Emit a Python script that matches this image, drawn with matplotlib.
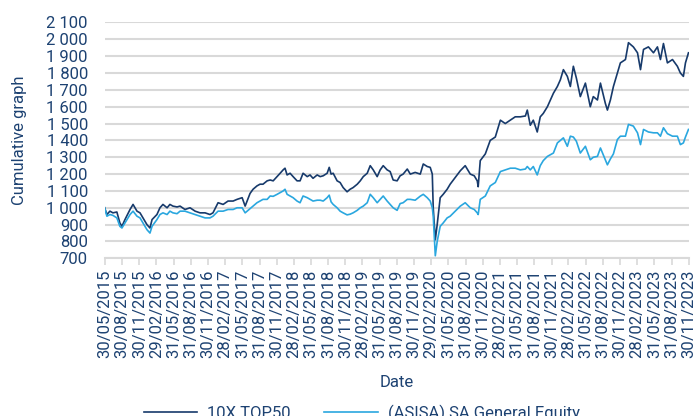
import pandas as pd
import matplotlib
matplotlib.use('Agg')
import matplotlib.pyplot as plt
import matplotlib.ticker as mticker

plt.rcParams['font.family'] = ['Roboto', 'DejaVu Sans']

# Valores
fechas = [
    '2015-05-30', '2015-06-11', '2015-06-27', '2015-07-13', '2015-08-03', '2015-08-19', '2015-08-30',
    '2015-09-15', '2015-10-12', '2015-10-28', '2015-11-18', '2015-12-04', '2015-12-20', '2016-01-10',
    '2016-01-26', '2016-02-06', '2016-03-03', '2016-03-19', '2016-04-04', '2016-04-26', '2016-05-11',
    '2016-05-27', '2016-06-18', '2016-07-04', '2016-07-30', '2016-08-26', '2016-09-22', '2016-10-18',
    '2016-11-14', '2016-12-10', '2016-12-26', '2017-01-22', '2017-02-18', '2017-03-16', '2017-04-12',
    '2017-05-03', '2017-05-30', '2017-06-15', '2017-07-11', '2017-07-27', '2017-08-17', '2017-09-02',
    '2017-09-18', '2017-10-10', '2017-10-26', '2017-11-11', '2017-12-02', '2017-12-18', '2018-01-03',
    '2018-01-13', '2018-01-24', '2018-02-09', '2018-02-25', '2018-03-18', '2018-04-03', '2018-04-19',
    '2018-05-11', '2018-05-26', '2018-06-11', '2018-07-03', '2018-07-19', '2018-08-04', '2018-08-25',
    '2018-09-05', '2018-09-15', '2018-09-26', '2018-10-17', '2018-11-02', '2018-11-18', '2018-12-09',
    '2018-12-25', '2019-01-10', '2019-02-01', '2019-02-17', '2019-03-05', '2019-03-26', '2019-04-11',
    '2019-04-27', '2019-05-18', '2019-06-03', '2019-06-19', '2019-07-10', '2019-07-26', '2019-08-11',
    '2019-09-01', '2019-09-17', '2019-10-03', '2019-10-25', '2019-11-10', '2019-12-06', '2020-01-02',
    '2020-01-18', '2020-02-08', '2020-02-24', '2020-03-06', '2020-03-11', '2020-03-22', '2020-04-01',
    '2020-04-17', '2020-05-03', '2020-05-24', '2020-06-09', '2020-07-06', '2020-08-02', '2020-08-28',
    '2020-09-24', '2020-10-15', '2020-10-31', '2020-11-05', '2020-11-16', '2020-12-13', '2021-01-08',
    '2021-02-04', '2021-03-03', '2021-03-29', '2021-04-25', '2021-05-21', '2021-06-17', '2021-07-14',
    '2021-07-24', '2021-08-09', '2021-08-25', '2021-09-15', '2021-10-01', '2021-10-17', '2021-11-08',
    '2021-11-24', '2021-12-10', '2021-12-31', '2022-01-16', '2022-02-01', '2022-02-22', '2022-03-10',
    '2022-03-26', '2022-04-11', '2022-05-02', '2022-05-29', '2022-06-24', '2022-07-10', '2022-08-01',
    '2022-08-17', '2022-09-12', '2022-09-23', '2022-10-09', '2022-10-25', '2022-11-15', '2022-12-01',
    '2022-12-28', '2023-01-13', '2023-02-08', '2023-03-02', '2023-03-18', '2023-04-03', '2023-04-29',
    '2023-05-26', '2023-06-16', '2023-07-02', '2023-07-18', '2023-08-08', '2023-09-04', '2023-09-30',
    '2023-10-16', '2023-11-01', '2023-11-12', '2023-11-28',
]

top50 = [
    1000, 960, 980, 970, 975, 910, 890,
    930, 990, 1020, 980, 970, 940, 900,
    880, 930, 960, 1000, 1020, 1000, 1020,
    1010, 1005, 1010, 990, 1000, 980, 970,
    970, 960, 970, 1030, 1020, 1040, 1040,
    1050, 1060, 1010, 1085, 1110, 1130, 1140,
    1140, 1160, 1165, 1160, 1185, 1205, 1225,
    1235, 1195, 1205, 1185, 1160, 1160, 1205,
    1185, 1195, 1175, 1195, 1185, 1190, 1205,
    1240, 1200, 1205, 1160, 1150, 1120, 1095,
    1110, 1120, 1140, 1160, 1185, 1205, 1250,
    1225, 1185, 1225, 1250, 1225, 1215, 1165,
    1160, 1190, 1200, 1230, 1200, 1210, 1200,
    1260, 1245, 1240, 1200, 1000, 810, 900,
    1060, 1080, 1110, 1140, 1180, 1220, 1250,
    1200, 1190, 1160, 1125, 1280, 1320, 1400,
    1420, 1520, 1500, 1520, 1540, 1540, 1545,
    1580, 1490, 1520, 1450, 1540, 1560, 1600,
    1640, 1680, 1720, 1760, 1820, 1780, 1720,
    1840, 1770, 1660, 1740, 1600, 1660, 1640,
    1740, 1620, 1580, 1640, 1720, 1800, 1860,
    1880, 1980, 1955, 1920, 1820, 1940, 1955,
    1920, 1955, 1880, 1975, 1860, 1880, 1840,
    1800, 1780, 1860, 1920,
]

general_equity = [
    1000, 950, 960, 955, 940, 890, 880,
    910, 960, 980, 950, 940, 910, 870,
    850, 890, 930, 960, 970, 960, 980,
    970, 965, 980, 980, 970, 960, 950,
    940, 940, 950, 980, 980, 990, 990,
    1000, 1000, 970, 995, 1010, 1030, 1040,
    1050, 1050, 1070, 1068, 1080, 1090, 1100,
    1110, 1080, 1070, 1060, 1040, 1030, 1070,
    1060, 1050, 1040, 1045, 1045, 1040, 1060,
    1075, 1035, 1020, 1000, 980, 970, 958,
    962, 970, 985, 1000, 1010, 1030, 1080,
    1060, 1030, 1050, 1070, 1040, 1020, 1000,
    985, 1025, 1030, 1050, 1050, 1045, 1069,
    1080, 1060, 1040, 1000, 950, 715, 800,
    890, 910, 940, 950, 980, 1010, 1030,
    1000, 990, 970, 960, 1050, 1070, 1130,
    1150, 1215, 1225, 1235, 1235, 1225, 1230,
    1245, 1225, 1245, 1195, 1250, 1280, 1305,
    1315, 1325, 1385, 1400, 1415, 1365, 1425,
    1420, 1395, 1325, 1365, 1285, 1300, 1305,
    1355, 1285, 1255, 1290, 1320, 1405, 1425,
    1425, 1495, 1485, 1445, 1375, 1465, 1450,
    1445, 1445, 1425, 1475, 1440, 1425, 1425,
    1375, 1385, 1420, 1465,
]

etiquetas_x = [
    '30/05/2015', '30/08/2015', '30/11/2015', '29/02/2016', '31/05/2016', '31/08/2016',
    '30/11/2016', '28/02/2017', '31/05/2017', '31/08/2017', '30/11/2017', '28/02/2018',
    '31/05/2018', '31/08/2018', '30/11/2018', '28/02/2019', '31/05/2019', '31/08/2019',
    '30/11/2019', '29/02/2020', '31/05/2020', '31/08/2020', '30/11/2020', '28/02/2021',
    '31/05/2021', '31/08/2021', '30/11/2021', '28/02/2022', '31/05/2022', '31/08/2022',
    '30/11/2022', '28/02/2023', '31/05/2023', '31/08/2023', '30/11/2023',
]

azul_oscuro = '#173a6b'
azul_claro = '#2aa7df'
texto = '#1d4272'
gris = '#d9d9d9'

fechas_dt = pd.to_datetime(fechas)
ticks_dt = pd.to_datetime(etiquetas_x, format='%d/%m/%Y')

fig = plt.figure(figsize=(6.93, 4.16), dpi=100)
ax = fig.add_axes([0.151, 0.379, 0.843, 0.567])

ax.plot(fechas_dt, top50, color=azul_oscuro, lw=1.2, label='10X TOP50')
ax.plot(fechas_dt, general_equity, color=azul_claro, lw=1.2, label='(ASISA) SA General Equity')

ax.set_ylim(700, 2100)
ax.set_yticks(range(700, 2101, 100))
ax.yaxis.set_major_formatter(mticker.FuncFormatter(lambda v, p: f'{int(v):,}'.replace(',', ' ')))
ax.set_xlim(ticks_dt[0], ticks_dt[-1])
ax.set_xticks(ticks_dt)
ax.set_xticklabels(etiquetas_x, rotation=90)

ax.grid(axis='y', color=gris, lw=1.5)
ax.set_axisbelow(True)
for s in ['top', 'right', 'left']:
    ax.spines[s].set_visible(False)
ax.spines['bottom'].set_color(gris)
ax.spines['bottom'].set_linewidth(1.5)
ax.tick_params(axis='y', length=0, labelsize=12, labelcolor=texto, pad=12)
ax.tick_params(axis='x', length=5, color=gris, width=1.2, labelsize=12, labelcolor=texto, pad=3)

ax.set_ylabel('Cumulative graph', fontsize=12, color=texto, labelpad=14)
ax.set_xlabel('Date', fontsize=12, color=texto, labelpad=12)

fig.legend(loc='center', bbox_to_anchor=(0.522, 0.006), ncol=2, frameon=False,
           fontsize=12, labelcolor=texto, handlelength=3.2, columnspacing=2.0,
           handletextpad=0.6)

fig.savefig('out.png', dpi=100)
